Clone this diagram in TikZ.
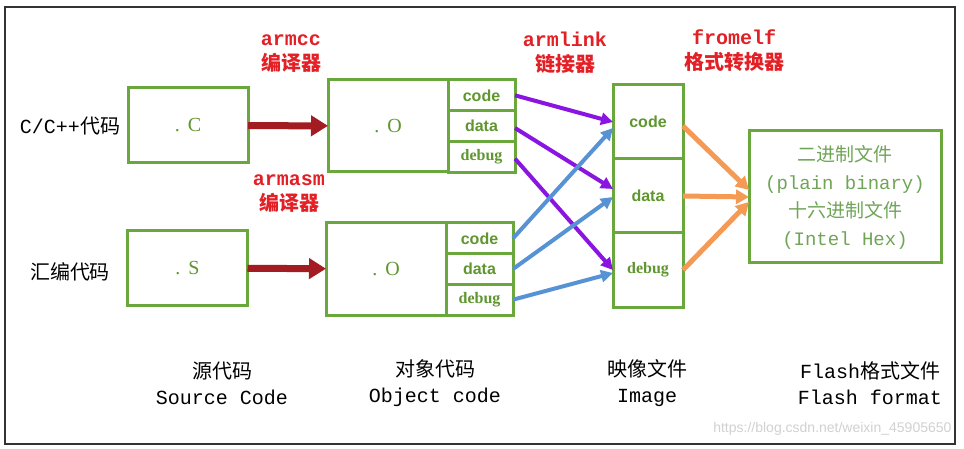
\documentclass[tikz,border=0pt]{standalone}
\usepackage{fontspec}
\setmainfont{Liberation Serif}
\setsansfont{Liberation Sans}
\setmonofont{Liberation Mono}
\newfontfamily\cjk{Noto Sans CJK SC}
\newcommand{\zh}[1]{{\cjk #1}}
\usepackage{tikz}
\usetikzlibrary{arrows.meta, positioning}
\definecolor{boxgreen}{RGB}{106,168,62}
\definecolor{txtgreen}{RGB}{96,150,48}
\definecolor{hexgreen}{RGB}{112,165,88}
\definecolor{toolred}{RGB}{226,32,38}
\definecolor{compred}{RGB}{162,28,34}
\definecolor{linkpurple}{RGB}{138,20,224}
\definecolor{linkblue}{RGB}{86,146,212}
\definecolor{convorange}{RGB}{244,154,84}
\tikzset{
  box/.style     = {rectangle, draw=boxgreen, line width=3pt, inner sep=0pt,
                    outer sep=0pt, text=txtgreen, align=center},
  src/.style     = {box, minimum width=120pt, minimum height=75pt,
                    font=\fontsize{20}{22}\selectfont},
  obj/.style     = {box, minimum width=120pt, minimum height=92pt,
                    font=\fontsize{20}{22}\selectfont},
  sect/.style    = {box, minimum width=67pt, minimum height=30.67pt,
                    font=\fontsize{16}{18}\selectfont\sffamily\bfseries},
  sectdbg/.style = {sect, font=\fontsize{16}{18}\selectfont\bfseries},
  seg/.style     = {box, minimum width=70pt, minimum height=74pt,
                    font=\fontsize{16}{18}\selectfont\sffamily\bfseries},
  segdbg/.style  = {seg, font=\fontsize{16}{18}\selectfont\bfseries},
  lbl/.style     = {font=\fontsize{20}{26}\selectfont\ttfamily,
                    align=center, text=black},
  tool/.style    = {font=\fontsize{20}{25}\selectfont\ttfamily\bfseries,
                    align=center, text=toolred},
  comp/.style    = {-{Triangle[length=17pt,width=20pt]}, line width=7pt, draw=compred},
  link/.style    = {-{Triangle[length=12pt,width=12pt]}, line width=4pt},
  conv/.style    = {-{Triangle[length=13pt,width=14pt]}, line width=5pt, draw=convorange}
}
\begin{document}
\begin{tikzpicture}[x=1pt, y=-1pt]
  \useasboundingbox[fill=white] (0,0) rectangle (964,449);
  \draw[line width=2pt, black!80] (5,7) rectangle (955,444);
  % sources
  \node[src] (dotc) at (188,125.5) {.\hspace{8pt}C};
  \node[src] (dots) at (187.5,268) {.\hspace{8pt}S};
  \node[lbl] (lcpp) at (70,126) {C/C++\zh{代码}};
  \node[lbl] (lasm) at (70,272) {\zh{汇编代码}};
  % object files
  \node[obj] (objc) at (388,126) {.\hspace{8pt}O};
  \node[sect, anchor=north west] (ccode) at (objc.north east) {code};
  \node[sect, below=0pt of ccode] (cdata) {data};
  \node[sectdbg, below=0pt of cdata] (cdebug) {debug};
  \node[obj] (objs) at (386,269) {.\hspace{8pt}O};
  \node[sect, anchor=north west] (scode) at (objs.north east) {code};
  \node[sect, below=0pt of scode] (sdata) {data};
  \node[sectdbg, below=0pt of sdata] (sdebug) {debug};
  % image
  \node[seg] (icode) at (648,122) {code};
  \node[seg, below=0pt of icode] (idata) {data};
  \node[segdbg, below=0pt of idata] (idebug) {debug};
  % flash
  \node[box, minimum width=192pt, minimum height=132pt, text=hexgreen,
        font=\fontsize{19}{28}\selectfont\ttfamily] (flash) at (845,197)
        {\zh{二进制文件}\\(plain binary)\\\zh{十六进制文件}\\(Intel Hex)};
  % tools
  \node[tool] (armcc)   at (291,54)  {armcc\\\zh{编译器}};
  \node[tool] (armasm)  at (289,194) {armasm\\\zh{编译器}};
  \node[tool] (armlink) at (565,53)  {armlink\\\zh{链接器}};
  \node[tool] (fromelf) at (734,51)  {fromelf\\\zh{格式转换器}};
  % captions
  \node[lbl] (csrc)   at (222,383) {\zh{源代码}\\Source Code};
  \node[lbl] (cobj)   at (435,383) {\zh{对象代码}\\Object code};
  \node[lbl] (cimg)   at (647,383) {\zh{映像文件}\\Image};
  \node[lbl] (cflash) at (870,383) {Flash\zh{格式文件}\\Flash format};
  \node[font=\fontsize{14}{16}\selectfont\sffamily, text=black!18, anchor=east]
        (mark) at (955,429) {https://blog.csdn.net/weixin\_45905650};
  % arrows
  \draw[comp] (dotc) -- (objc);
  \draw[comp] (dots) -- (objs);
  \draw[link, linkpurple] (ccode.east) -- (icode.west);
  \draw[link, linkpurple] ([yshift=-2pt]cdata.east) -- ([yshift=7pt]idata.west);
  \draw[link, linkpurple] ([yshift=-2pt]cdebug.east) -- (idebug.west);
  \draw[link, linkblue] (scode.east) -- ([yshift=-6pt]icode.west);
  \draw[link, linkblue] (sdata.east) -- ([yshift=-1pt]idata.west);
  \draw[link, linkblue] (sdebug.east) -- ([yshift=-3pt]idebug.west);
  \draw[conv] ([yshift=-4pt]icode.east) -- ([yshift=7pt]flash.west);
  \draw[conv] (idata.east) -- (flash.west);
  \draw[conv] (idebug.east) -- ([yshift=-5pt]flash.west);
\end{tikzpicture}
\end{document}
